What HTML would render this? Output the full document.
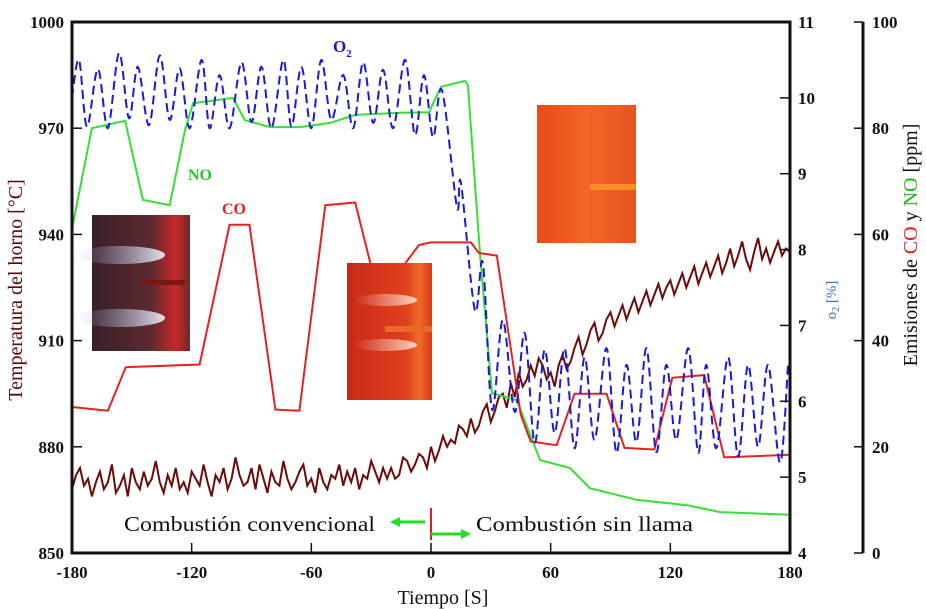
<!DOCTYPE html>
<html><head><meta charset="utf-8"><style>
html,body{margin:0;padding:0;background:#fff;}
svg{display:block;font-family:"Liberation Serif",serif;}
.tk{font-weight:bold;font-size:17px;fill:#111;}
</style></head><body>
<svg id="chart" width="926" height="609" viewBox="0 0 926 609" xmlns="http://www.w3.org/2000/svg">
<defs>
<linearGradient id="g1" x1="0" x2="1"><stop offset="0" stop-color="#3a2028"/><stop offset="0.6" stop-color="#5a2a30"/><stop offset="0.85" stop-color="#c8282a"/><stop offset="1" stop-color="#6a2a2a"/></linearGradient>
<linearGradient id="g2" x1="0" x2="1"><stop offset="0" stop-color="#c82a18"/><stop offset="0.7" stop-color="#e0401c"/><stop offset="0.85" stop-color="#f06a28"/><stop offset="1" stop-color="#d83a18"/></linearGradient>
<linearGradient id="g3" x1="0" x2="1"><stop offset="0" stop-color="#e84a18"/><stop offset="0.5" stop-color="#f26628"/><stop offset="1" stop-color="#e85420"/></linearGradient>
<linearGradient id="fl" x1="0" x2="1"><stop offset="0" stop-color="#8aa0d0" stop-opacity="0"/><stop offset="1" stop-color="#f0f4ff"/></linearGradient>
<linearGradient id="fl2" x1="0" x2="1"><stop offset="0" stop-color="#f8d0c0" stop-opacity="0"/><stop offset="1" stop-color="#fff4ea"/></linearGradient>
</defs>
<g id="series"></g>
<g id="photos">
<g>
<rect x="92" y="215" width="98" height="136" fill="url(#g1)"/>
<ellipse cx="120" cy="255" rx="45" ry="9" fill="url(#fl)" opacity="0.9"/>
<ellipse cx="120" cy="318" rx="45" ry="9" fill="url(#fl)" opacity="0.9"/>
<rect x="140" y="280" width="45" height="5" fill="#7a1818"/>
</g>
<g>
<rect x="347" y="263" width="85" height="137" fill="url(#g2)"/>
<ellipse cx="385" cy="300" rx="32" ry="6" fill="url(#fl2)" opacity="0.8"/>
<ellipse cx="385" cy="345" rx="32" ry="6" fill="url(#fl2)" opacity="0.8"/>
<rect x="385" y="326" width="47" height="6" fill="#e86a28"/>
</g>
<g>
<rect x="537" y="105" width="99" height="138" fill="url(#g3)"/>
<rect x="590" y="184" width="46" height="6" fill="#f8902a"/>
</g>
</g>
<g id="axes"></g>
<text x="333" y="52" fill="#1a1acc" font-weight="bold" font-size="17">O<tspan font-size="11" dy="5">2</tspan></text>
<text x="188" y="180" fill="#22cc22" font-weight="bold" font-size="16">NO</text>
<text x="222" y="214" fill="#e02020" font-weight="bold" font-size="16">CO</text>
<g>
<text x="124" y="531" font-size="21" textLength="251" lengthAdjust="spacingAndGlyphs" fill="#111">Combustión convencional</text>
<line x1="425" y1="522" x2="398" y2="522" stroke="#22dd22" stroke-width="3"/>
<polygon points="390,522 400,517 400,527" fill="#22dd22"/>
<line x1="431" y1="508" x2="431" y2="540" stroke="#e02020" stroke-width="2"/>
<line x1="431" y1="534" x2="462" y2="534" stroke="#22dd22" stroke-width="3"/>
<polygon points="471,534 461,529 461,539" fill="#22dd22"/>
<text x="476" y="531" font-size="21" textLength="217" lengthAdjust="spacingAndGlyphs" fill="#111">Combustión sin llama</text>
</g>
<text x="443" y="604" text-anchor="middle" font-size="20" fill="#111">Tiempo [S]</text>
<text transform="translate(22,290) rotate(-90)" text-anchor="middle" font-size="20" fill="#5a0808">Temperatura del horno [°C]</text>
<text transform="translate(836,300) rotate(-90)" text-anchor="middle" font-size="15" fill="#3a6acc">o<tspan font-size="10" dy="3">2</tspan><tspan dy="-3"> [%]</tspan></text>
<text transform="translate(917,245) rotate(-90)" text-anchor="middle" font-size="20" fill="#111">Emisiones de <tspan fill="#ee1111">CO</tspan> y <tspan fill="#11bb11">NO</tspan> [ppm]</text>
</svg>
<script>
// ---- data ----
const xTicks = [-180, -120, -60, 0, 60, 120, 180];
const tempTicks = [850, 880, 910, 940, 970, 1000];
const o2Ticks = [4, 5, 6, 7, 8, 9, 10, 11];
const emisTicks = [0, 20, 40, 60, 80, 100];
const tempStart = -180;
const tempStep = 2;
const tempValues = [868,872,874,869,871,866,870,873,868,870,875,867,869,872,866,874,870,868,873,869,871,876,870,867,872,869,874,868,870,867,873,871,869,875,870,866,872,870,874,868,871,877,872,869,870,874,868,875,871,867,873,870,869,876,871,868,870,873,875,869,871,867,874,870,868,872,871,875,869,873,870,874,868,872,871,876,873,870,874,871,
874,871,872,877,876,873,875,878,877,874,880,876,879,883,880,882,881,886,885,883,
888,884,886,890,892,887,890,894,895,891,898,894,901,897,899,903,900,905,903,899,
901,897,903,906,902,904,908,911,906,909,913,915,910,912,916,918,914,917,920,916,
919,922,918,921,924,920,923,926,922,925,927,923,926,929,925,928,931,926,929,932,
928,931,934,929,932,936,931,934,938,933,930,935,939,933,936,932,935,938,934,936,935];
const coTimes = [-180,-162,-153,-116,-101,-91,-78,-66,-53,-38,-26,-6,0,20,24,33,45,50,63,72,88,97,112,121,137,147,180];
const coValues = [27.5,26.8,35,35.5,61.8,61.8,27,26.8,65.5,66,48,58,58.5,58.5,56.5,56,26,21,20.3,30,30,19.8,19.5,33,33.5,18,18.5];
const noTimes = [-180,-170,-153.4,-144.4,-131,-123.3,-119.3,-99.3,-93.3,-80.7,-65.7,-50.6,-38,-15.5,-1,5,17,18.5,24.6,30.6,43,54.7,69.7,79.7,103.3,128.4,145,180];
const noValues = [61,80,81.4,66.5,65.5,79.7,84.7,85.7,81.5,80.2,80.2,81,82.5,82.9,83,87.8,88.9,88.1,56.1,30.1,28.8,17.5,16,12.2,10,9,7.7,7.2];
const o2Times = [-180,-176.5,-172.5,-167,-162,-156.4,-151.4,-147,-141.4,-136,-131,-126,-121,-115,-111,-106,-101,-95,-90,-85,-80,-74,-70,-65,-60,-55,-50,-44,-39,-34,-29,-24,-19,-13,-8,-3.5,1,5.5,13,15,22,26,30.6,36,42,47,52,57,62,67,72,77,82,88,93,98,103,108,113,118,123,129,134,138,143,149,154,159,164,169,175,179];
const o2Values = [10.0,10.5,9.62,10.38,9.6,10.59,9.73,10.41,9.64,10.56,9.71,10.39,9.6,10.5,9.6,10.3,9.6,10.47,9.68,10.41,9.6,10.5,9.62,10.41,9.6,10.5,9.71,10.3,9.6,10.47,9.67,10.37,9.6,10.5,9.51,10.3,9.48,10.1,8.56,8.88,7.2,7.82,5.89,7.07,5.86,6.9,5.45,6.68,5.58,6.7,5.38,6.58,5.49,6.7,5.32,6.48,5.46,6.7,5.33,6.48,5.49,6.7,5.32,6.48,5.38,6.58,5.27,6.48,5.4,6.48,5.19,6.48];

// ---- scales ----
const X0 = 72, X1 = 790, Y0 = 22, Y1 = 553, EX = 863;
const xS = t => X0 + (t + 180) / 360 * (X1 - X0);
const yT = v => Y0 + (1000 - v) / 150 * (Y1 - Y0);
const yO = v => Y0 + (11 - v) / 7 * (Y1 - Y0);
const yE = v => Y0 + (100 - v) / 100 * (Y1 - Y0);
const NS = 'http://www.w3.org/2000/svg';
const series = document.getElementById('series');
const axes = document.getElementById('axes');
function mk(tag, attrs, parent) {
  const e = document.createElementNS(NS, tag);
  for (const k in attrs) e.setAttribute(k, attrs[k]);
  parent.appendChild(e);
  return e;
}
function linePath(pts) { return pts.map((p, i) => (i ? 'L' : 'M') + p[0].toFixed(1) + ',' + p[1].toFixed(1)).join(''); }
function smoothPath(p) {
  let d = 'M' + p[0][0] + ',' + p[0][1];
  for (let i = 0; i < p.length - 1; i++) {
    const a = p[Math.max(0, i - 1)], b = p[i], c = p[i + 1], e = p[Math.min(p.length - 1, i + 2)];
    const c1 = [b[0] + (c[0] - a[0]) / 6, b[1] + (c[1] - a[1]) / 6];
    const c2 = [c[0] - (e[0] - b[0]) / 6, c[1] - (e[1] - b[1]) / 6];
    d += 'C' + c1[0].toFixed(1) + ',' + c1[1].toFixed(1) + ' ' + c2[0].toFixed(1) + ',' + c2[1].toFixed(1) + ' ' + c[0].toFixed(1) + ',' + c[1].toFixed(1);
  }
  return d;
}
// temperature
const tp = tempValues.map((v, i) => [xS(tempStart + i * tempStep), yT(v)]);
const tl = mk('path', {d: linePath(tp), fill: 'none', stroke: '#6e0a0a', 'stroke-width': 2}, series);


// NO
const nl = mk('path', {d: linePath(noTimes.map((t, i) => [xS(t), yE(noValues[i])])), fill: 'none', stroke: '#33e033', 'stroke-width': 2}, series);


// CO
const cl = mk('path', {d: linePath(coTimes.map((t, i) => [xS(t), yE(coValues[i])])), fill: 'none', stroke: '#e82020', 'stroke-width': 2}, series);


// O2
const ol = mk('path', {d: smoothPath(o2Times.map((t, i) => [xS(t), yO(o2Values[i])])), fill: 'none', stroke: '#1a1ad8', 'stroke-width': 2, 'stroke-dasharray': '9,5'}, series);



// ---- axes ----
const frame = mk('rect', {x: X0, y: Y0, width: X1 - X0, height: Y1 - Y0, fill: 'none', stroke: '#111', 'stroke-width': 3}, axes);


const ea = mk('line', {x1: EX, y1: Y0, x2: EX, y2: Y1, stroke: '#111', 'stroke-width': 3}, axes);


xTicks.forEach(t => {
  mk('line', {x1: xS(t), y1: Y1, x2: xS(t), y2: Y1 - 10, stroke: '#111', 'stroke-width': 1.5}, axes);
  const l = mk('text', {x: xS(t), y: Y1 + 25, 'text-anchor': 'middle', class: 'tk'}, axes);
  l.textContent = t;
  
  
});
tempTicks.forEach(v => {
  mk('line', {x1: X0, y1: yT(v), x2: X0 + 10, y2: yT(v), stroke: '#111', 'stroke-width': 1.5}, axes);
  const l = mk('text', {x: 64, y: yT(v) + 6, 'text-anchor': 'end', class: 'tk'}, axes);
  l.textContent = v;
  
  
});
o2Ticks.forEach(v => {
  mk('line', {x1: X1, y1: yO(v), x2: X1 - 10, y2: yO(v), stroke: '#111', 'stroke-width': 1.5}, axes);
  const l = mk('text', {x: 798, y: yO(v) + 6, class: 'tk'}, axes);
  l.textContent = v;
  
  
});
emisTicks.forEach(v => {
  mk('line', {x1: EX, y1: yE(v), x2: EX - 9, y2: yE(v), stroke: '#111', 'stroke-width': 1.5}, axes);
  const l = mk('text', {x: 872, y: yE(v) + 6, class: 'tk'}, axes);
  l.textContent = v;
  
  
});
</script>
</body></html>
